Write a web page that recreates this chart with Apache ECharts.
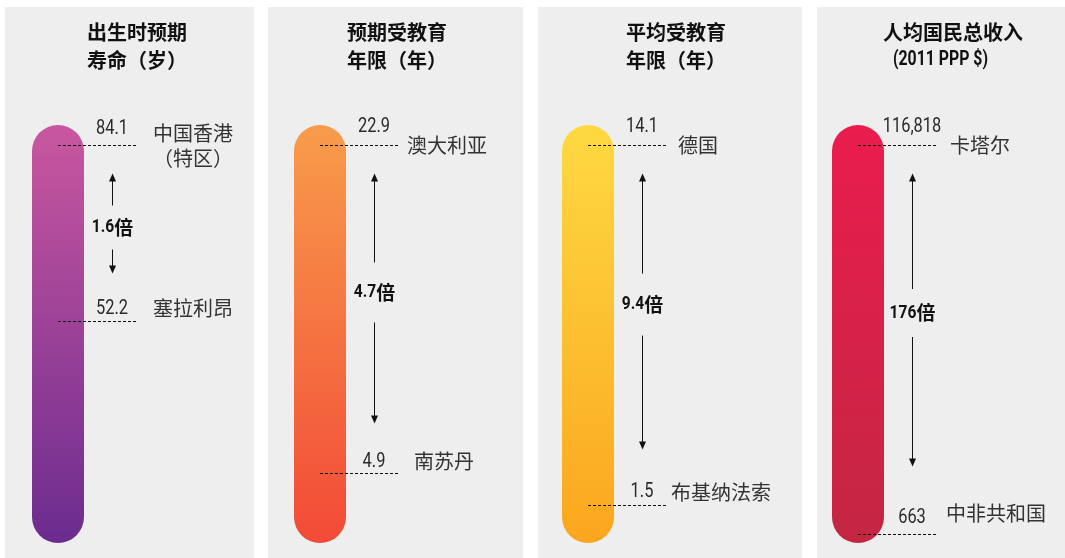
<!DOCTYPE html>
<html><head><meta charset="utf-8">
<script src="https://cdn.jsdelivr.net/npm/echarts@6/dist/echarts.min.js"></script>
<style>html,body{margin:0;padding:0;background:#fff}#c{width:1065px;height:558px}</style>
</head><body><div id="c"></div>
<script>
// ---- data ----
const titleLine1 = ['出生时预期', '预期受教育', '平均受教育', '人均国民总收入'];
const titleLine2 = ['寿命（岁）', '年限（年）', '年限（年）', '(2011 PPP $)'];
const topCountries = ['中国香港\n（特区）', '澳大利亚', '德国', '卡塔尔'];
const bottomCountries = ['塞拉利昂', '南苏丹', '布基纳法索', '中非共和国'];
const topValues = [84.1, 22.9, 14.1, 116818];
const bottomValues = [52.2, 4.9, 1.5, 663];
const ratioNumbers = ['1.6', '4.7', '9.4', '176'];
const ratioUnit = '倍';
const axisMin = [12, 1.06, 0.17, -2000];
const axisMax = [87.7, 24, 14.8, 122800];

// ---- layout / style ----
const panelX = [5, 268, 538, 817];
const panelW = [249, 255, 264, 248];
const barLeft = [32, 294, 562, 832];
const barW = 52, gridTop = 125, gridH = 418;
const gradients = [['#C9579F', '#6B2C8F'], ['#F89C4B', '#F24A37'], ['#FED942', '#FBA61E'], ['#EA1D4E', '#C32642']];
const title1X = [87, 347, 626, 953];
const title1Align = ['left', 'left', 'left', 'center'];
const title2X = [87, 347, 626, 893];
const topValDy = [-17, -19, -19, -19];
const botValDy = [-13, -12, -14, -17];
const topCtryDx = [55, 7, 10, 12];
const topCtryAlign = ['center', 'left', 'left', 'left'];
const botCtryDx = [15, 14, 3, 8];
const botCtryDy = [-13, -12, -13, -21];
const botTipGap = [48, 50, 56, 68];
const ratioShift = [4, -6, -7, -7];
const ratioGap = [22, 30, 31, 24];

const NUM = "Roboto,'Liberation Sans',sans-serif";
const CJK = "'Noto Sans CJK SC',sans-serif";
const NUM_SCALE = 0.82;
const NUM_FONT = '20px ' + NUM;
const RATIO_NUM_FONT = 'bold 19px ' + NUM;
const RATIO_CJK_FONT = 'bold 19px ' + CJK;

const mctx = document.createElement('canvas').getContext('2d');
function tw(t, font) { mctx.font = font; return mctx.measureText(t).width; }
function fmt(v) { return v >= 1000 ? v.toLocaleString('en-US') : String(v); }

const grids = [], xAxes = [], yAxes = [], series = [];
for (let i = 0; i < 4; i++) {
  grids.push({ left: barLeft[i], top: gridTop, width: barW, height: gridH });
  xAxes.push({ type: 'category', gridIndex: i, data: [''], show: false, boundaryGap: true });
  yAxes.push({ type: 'value', gridIndex: i, min: axisMin[i], max: axisMax[i], show: false });
  series.push({
    type: 'custom', xAxisIndex: i, yAxisIndex: i, clip: false, silent: true,
    data: [[0, axisMax[i]]],
    renderItem: function (params, api) {
      const p1 = api.coord([0, axisMax[i]]), p0 = api.coord([0, axisMin[i]]);
      const w = api.size([1, 0])[0];
      return {
        type: 'rect',
        shape: { x: p1[0] - w / 2, y: p1[1], width: w, height: p0[1] - p1[1], r: w / 2 },
        style: { fill: new echarts.graphic.LinearGradient(0, 0, 0, 1, [
          { offset: 0, color: gradients[i][0] }, { offset: 1, color: gradients[i][1] }]) }
      };
    }
  });
  series.push({
    type: 'custom', xAxisIndex: i, yAxisIndex: i, clip: false, silent: true, z: 5,
    data: [[0, topValues[i], bottomValues[i]]],
    renderItem: function (params, api) {
      const pt = api.coord([0, topValues[i]]), pb = api.coord([0, bottomValues[i]]);
      const cx = pt[0], yt = Math.round(pt[1]) + 0.5, yb = Math.round(pb[1]) + 0.5;
      const lineEnd = cx + 80, ax = Math.round(cx + 54) + 0.5;
      const dash = { stroke: '#111', lineWidth: 1, lineDash: [3, 2] };
      const tipTop = yt + 28, tipBot = yb - botTipGap[i];
      const ty = (tipTop + tipBot) / 2 + ratioShift[i];
      const upTail = ty - ratioGap[i], downTail = ty + ratioGap[i];
      const numText = (t, x, y) => ({ type: 'text', x: x, y: y, scaleX: NUM_SCALE,
        style: { text: t, x: 0, y: 0, fill: '#2a2a2a', font: NUM_FONT, align: 'center', verticalAlign: 'middle' } });
      const wNum = tw(ratioNumbers[i], RATIO_NUM_FONT) * NUM_SCALE;
      const wUnit = tw(ratioUnit, RATIO_CJK_FONT);
      const rx = ax - (wNum + wUnit) / 2;
      return {
        type: 'group',
        children: [
          { type: 'line', shape: { x1: cx, y1: yt, x2: lineEnd, y2: yt }, style: dash },
          { type: 'line', shape: { x1: cx, y1: yb, x2: lineEnd, y2: yb }, style: dash },
          numText(fmt(topValues[i]), cx + 54, yt + topValDy[i]),
          numText(fmt(bottomValues[i]), cx + 54, yb + botValDy[i]),
          { type: 'text', style: { text: topCountries[i], x: lineEnd + topCtryDx[i], y: yt, fill: '#333', font: '20px ' + CJK, align: topCtryAlign[i], verticalAlign: 'middle', lineHeight: 25 } },
          { type: 'text', style: { text: bottomCountries[i], x: lineEnd + botCtryDx[i], y: yb + botCtryDy[i], fill: '#333', font: '20px ' + CJK, align: 'left', verticalAlign: 'middle' } },
          { type: 'line', shape: { x1: ax, y1: tipTop + 5, x2: ax, y2: upTail }, style: { stroke: '#111', lineWidth: 1 } },
          { type: 'polygon', shape: { points: [[ax, tipTop], [ax - 3.5, tipTop + 8], [ax + 3.5, tipTop + 8]] }, style: { fill: '#111' } },
          { type: 'line', shape: { x1: ax, y1: downTail, x2: ax, y2: tipBot - 5 }, style: { stroke: '#111', lineWidth: 1 } },
          { type: 'polygon', shape: { points: [[ax, tipBot], [ax - 3.5, tipBot - 8], [ax + 3.5, tipBot - 8]] }, style: { fill: '#111' } },
          { type: 'text', x: rx, y: ty, scaleX: NUM_SCALE, style: { text: ratioNumbers[i], x: 0, y: 0, fill: '#111', font: RATIO_NUM_FONT, align: 'left', verticalAlign: 'middle' } },
          { type: 'text', style: { text: ratioUnit, x: rx + wNum, y: ty, fill: '#111', font: RATIO_CJK_FONT, align: 'left', verticalAlign: 'middle' } }
        ]
      };
    }
  });
}

const graphics = [];
for (let i = 0; i < 4; i++) {
  graphics.push({ type: 'rect', z: -10, shape: { x: panelX[i], y: 7, width: panelW[i], height: 560 }, style: { fill: '#EDEEED' } });
  graphics.push({ type: 'text', z: 10, style: { text: titleLine1[i], x: title1X[i], y: 32, fill: '#111', font: 'bold 20px ' + CJK, align: title1Align[i], verticalAlign: 'middle' } });
  if (i === 3) {
    const f = 'bold 20px ' + NUM;
    const s = 95 / tw(titleLine2[i], f);
    graphics.push({ type: 'text', z: 10, x: title2X[i], y: 60, scaleX: s, style: { text: titleLine2[i], x: 0, y: 0, fill: '#111', font: f, align: 'left', verticalAlign: 'middle' } });
  } else {
    graphics.push({ type: 'text', z: 10, style: { text: titleLine2[i], x: title2X[i], y: 60, fill: '#111', font: 'bold 20px ' + CJK, align: 'left', verticalAlign: 'middle' } });
  }
}

const chart = echarts.init(document.getElementById('c'), null, { renderer: 'canvas' });
chart.setOption({
  backgroundColor: '#ffffff',
  animation: false,
  grid: grids, xAxis: xAxes, yAxis: yAxes, series: series,
  graphic: { elements: graphics }
});
</script></body></html>
